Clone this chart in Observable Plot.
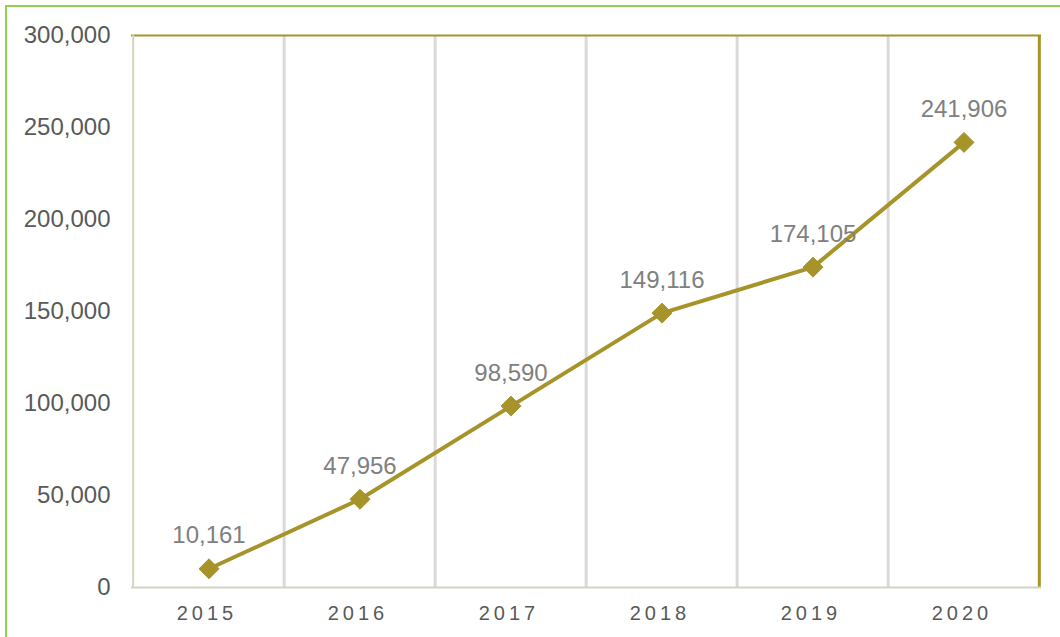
<!DOCTYPE html>
<html>
<head>
<meta charset="utf-8">
<script src="https://cdn.jsdelivr.net/npm/d3@7"></script>
<script src="https://cdn.jsdelivr.net/npm/@observablehq/plot@0.6"></script>
<style>
  html, body { margin: 0; padding: 0; background: #fff; }
  #wrap { position: relative; width: 1060px; height: 637px; overflow: hidden; }
  #border { position: absolute; left: 5px; top: 5px; width: 1100px; height: 700px;
            border-left: 2px solid #92d050; border-top: 2px solid #92d050; pointer-events: none; }
  svg { font-family: "Liberation Sans", Arial, sans-serif; }
  g[aria-label="x-axis tick label"] text { font-size: 20px; letter-spacing: 4px; }
</style>
</head>
<body>
<div id="wrap"><div id="border"></div></div>
<script>
const years = ["2015", "2016", "2017", "2018", "2019", "2020"];
const values = [10161, 47956, 98590, 149116, 174105, 241906];
const yTicks = [0, 50000, 100000, 150000, 200000, 250000, 300000];

const data = years.map((y, i) => ({year: y, value: values[i]}));
const fmt = d3.format(",");
const olive = "#a6942b";
const gridYears = years.slice(1);
const bw = 910 / 6;

const plot = Plot.plot({
  width: 1060,
  height: 637,
  marginLeft: 131,
  marginRight: 19,
  marginTop: 35,
  marginBottom: 50,
  style: {fontFamily: "'Liberation Sans', Arial, sans-serif", background: "transparent"},
  x: {type: "band", domain: years, padding: 0, label: null},
  y: {domain: [0, 300000], label: null},
  marks: [
    Plot.ruleX(gridYears, {x: d => d, dx: -bw/2, stroke: "#d9d9d9", strokeWidth: 3}),
    Plot.ruleY([300000], {stroke: olive, strokeWidth: 2}),
    Plot.ruleX(["2020"], {x: d => d, dx: bw/2 - 0.5, stroke: olive, strokeWidth: 3}),
    Plot.ruleY([0], {stroke: "#d6d3c4", strokeWidth: 2}),
    Plot.ruleX(["2015"], {x: d => d, dx: -bw/2, stroke: "#d6d3c4", strokeWidth: 2}),
    Plot.axisY({ticks: yTicks, tickSize: 0, tickPadding: 21, tickFormat: fmt,
      fontSize: 24, fill: "#595959", color: "#595959"}),
    Plot.axisX({tickSize: 0, tickPadding: 18, fontSize: 20, fill: "#595959",
      dx: -2, tickFormat: d => d}),
    Plot.line(data, {x: "year", y: "value", stroke: olive, strokeWidth: 4}),
    Plot.dot(data, {x: "year", y: "value", symbol: "diamond2", r: 9, fill: olive, stroke: olive, strokeWidth: 1}),
    Plot.text(data, {x: "year", y: "value", text: d => fmt(d.value), dy: -33,
      fontSize: 24, fill: "#808080"})
  ]
});
document.getElementById("wrap").prepend(plot);
</script>
</body>
</html>
